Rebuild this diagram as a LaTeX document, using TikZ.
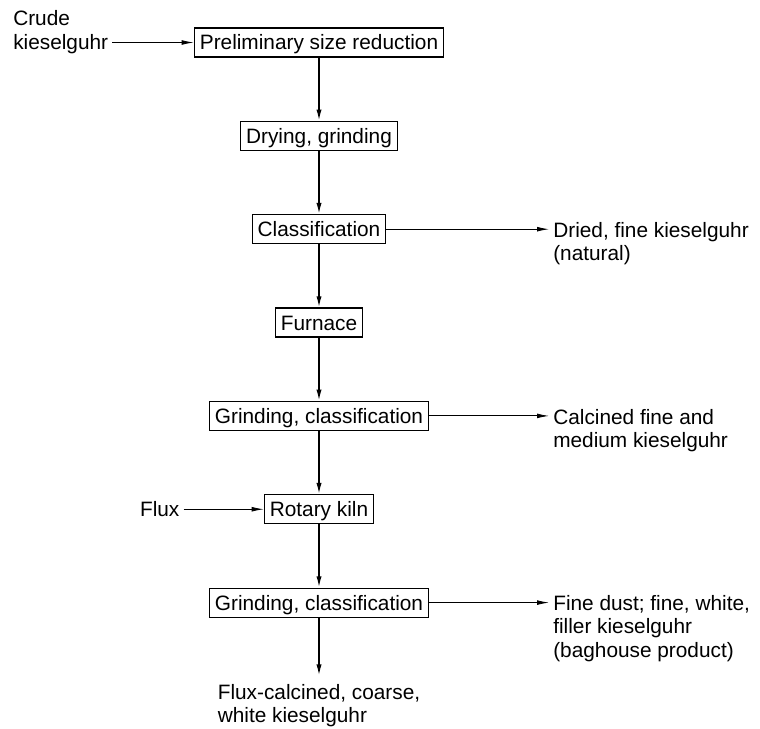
\documentclass[tikz,border=0pt]{standalone}
\usepackage{fontspec}
\setmainfont{Liberation Sans}
\usetikzlibrary{positioning,arrows.meta}

\begin{document}
\begin{tikzpicture}[
    x=0.025cm, y=-0.025cm,
    node distance=1.58cm and 2cm,
    font=\fontsize{14.8pt}{16.5pt}\selectfont,
    stage/.style={rectangle, draw, line width=0.8pt, minimum height=0.725cm, inner xsep=0.14cm, text height=10.6pt, text depth=0pt},
    product/.style={align=left, inner xsep=0.1cm, inner ysep=0.2cm},
    flow/.style={-{Latex[length=2.8mm,width=1.3mm]}, line width=1.1pt},
    feed/.style={-{Latex[length=3mm,width=1.2mm]}, line width=0.6pt}
]
\useasboundingbox (0,0) rectangle (760,728);

% Process chain (one column)
\node[stage] (prelim) at (319,42.5) {Preliminary size reduction};
\node[stage, below=of prelim] (dry) {Drying, grinding};
\node[stage, below=of dry] (cls) {Classification};
\node[stage, below=of cls] (furnace) {Furnace};
\node[stage, below=of furnace] (grind1) {Grinding, classification};
\node[stage, below=of grind1] (kiln) {Rotary kiln};
\node[stage, below=of kiln] (grind2) {Grinding, classification};

% Columns for the side texts
\coordinate (lcol) at (9,0);
\coordinate (rcol) at (549,0);

% Feeds (left)
\node[product, anchor=north west, yshift=1cm] (crude) at (prelim.west -| lcol) {Crude\\kieselguhr};
\node[product, left=2cm of kiln, inner ysep=0pt] (flux) {Flux};

% Products (right and bottom)
\node[product, anchor=north west, yshift=0.38cm] (dried) at (cls.east -| rcol) {Dried, fine kieselguhr\\(natural)};
\node[product, anchor=north west, yshift=0.38cm] (calcined) at (grind1.east -| rcol) {Calcined fine and\\medium kieselguhr};
\node[product, anchor=north west, yshift=0.38cm] (dust) at (grind2.east -| rcol) {Fine dust; fine, white,\\filler kieselguhr\\(baghouse product)};
\node[product, below=1.45cm of grind2] (coarse) {Flux-calcined, coarse,\\white kieselguhr};

% Main flow
\draw[flow] (prelim) -- (dry);
\draw[flow] (dry) -- (cls);
\draw[flow] (cls) -- (furnace);
\draw[flow] (furnace) -- (grind1);
\draw[flow] (grind1) -- (kiln);
\draw[flow] (kiln) -- (grind2);
\draw[flow] (grind2) -- (coarse);

% Side streams
\draw[feed] (crude.east |- prelim) -- (prelim);
\draw[feed] (flux) -- (kiln);
\draw[feed] (cls) -- (dried.west |- cls);
\draw[feed] (grind1) -- (calcined.west |- grind1);
\draw[feed] (grind2) -- (dust.west |- grind2);

\end{tikzpicture}
\end{document}
